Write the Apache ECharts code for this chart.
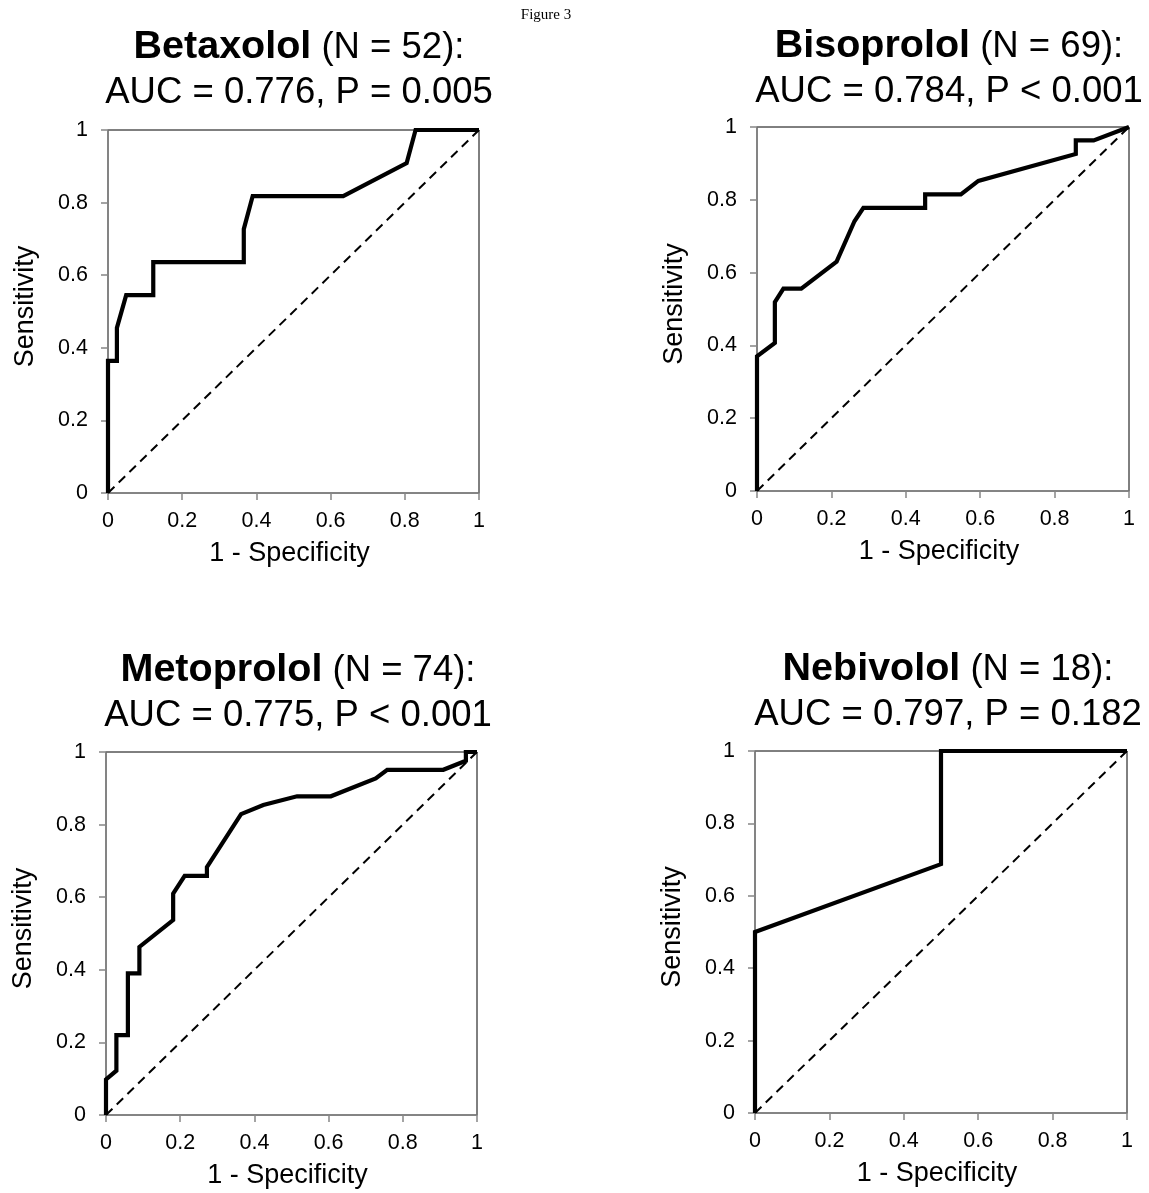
<!DOCTYPE html>
<html>
<head>
<meta charset="utf-8">
<script src="https://cdn.jsdelivr.net/npm/echarts@6/dist/echarts.min.js"></script>
<style>
html,body{margin:0;padding:0;background:#fff;}
#chart{width:1149px;height:1193px;}
</style>
</head>
<body>
<div id="chart"></div>
<script>
// ---- data ----
const figureLabel = 'Figure 3';
const drugNames = ['Betaxolol', 'Bisoprolol', 'Metoprolol', 'Nebivolol'];
const sampleSizes = [52, 69, 74, 18];
const aucValues = ['0.776', '0.784', '0.775', '0.797'];
const pValues = ['P = 0.005', 'P < 0.001', 'P < 0.001', 'P = 0.182'];
const axisTickValues = [0, 0.2, 0.4, 0.6, 0.8, 1];
const xAxisTitle = '1 - Specificity';
const yAxisTitle = 'Sensitivity';

const betaxololFpr = [0, 0, 0.024, 0.024, 0.049, 0.122, 0.122, 0.366, 0.366, 0.390, 0.634, 0.805, 0.829, 1];
const betaxololTpr = [0, 0.364, 0.364, 0.455, 0.545, 0.545, 0.636, 0.636, 0.727, 0.818, 0.818, 0.909, 1, 1];

const bisoprololFpr = [0, 0, 0.048, 0.048, 0.071, 0.119, 0.214, 0.262, 0.286, 0.452, 0.452, 0.548, 0.595, 0.857, 0.857, 0.905, 1];
const bisoprololTpr = [0, 0.370, 0.407, 0.519, 0.556, 0.556, 0.630, 0.741, 0.778, 0.778, 0.815, 0.815, 0.852, 0.926, 0.963, 0.963, 1];

const metoprololFpr = [0, 0, 0.028, 0.028, 0.059, 0.059, 0.090, 0.090, 0.181, 0.181, 0.212, 0.272, 0.272, 0.364, 0.424, 0.515, 0.606, 0.727, 0.758, 0.909, 0.970, 0.970, 1];
const metoprololTpr = [0, 0.098, 0.122, 0.220, 0.220, 0.390, 0.390, 0.463, 0.537, 0.610, 0.659, 0.659, 0.683, 0.829, 0.854, 0.878, 0.878, 0.927, 0.951, 0.951, 0.976, 1, 1];

const nebivololFpr = [0, 0, 0.5, 0.5, 1];
const nebivololTpr = [0, 0.5, 0.6875, 1, 1];

const referenceX = [0, 1];
const referenceY = [0, 1];

// ---- layout / style ----
const FONT = "'Liberation Sans', Arial, sans-serif";
const fprList = [betaxololFpr, bisoprololFpr, metoprololFpr, nebivololFpr];
const tprList = [betaxololTpr, bisoprololTpr, metoprololTpr, nebivololTpr];
const grids = [
  {left: 108, top: 130, width: 371, height: 363},
  {left: 757, top: 127, width: 372, height: 364},
  {left: 106, top: 752, width: 371, height: 363},
  {left: 755, top: 751, width: 372, height: 362}
];
const titlePos = [
  {x: 299, y: 25},
  {x: 949, y: 24},
  {x: 298, y: 648},
  {x: 948, y: 647}
];

const zip = (a, b) => a.map((v, i) => [v, b[i]]);

const option = {
  animation: false,
  backgroundColor: '#fff',
  title: [{
    text: figureLabel,
    left: 546, top: 8, textAlign: 'center', padding: 0,
    textStyle: {fontFamily: "'Liberation Serif', 'Times New Roman', serif", fontSize: 15, fontWeight: 'normal', color: '#000'}
  }].concat(drugNames.map((d, i) => ({
    text: '{b|' + d + '}{r| (N = ' + sampleSizes[i] + '):}\n{r|AUC = ' + aucValues[i] + ', ' + pValues[i] + '}',
    left: titlePos[i].x, top: titlePos[i].y, textAlign: 'center', padding: 0,
    textStyle: {
      fontFamily: FONT, color: '#000',
      rich: {
        b: {fontFamily: FONT, fontWeight: 'bold', fontSize: 39.5, lineHeight: 45, color: '#000'},
        r: {fontFamily: FONT, fontWeight: 'normal', fontSize: 36.5, lineHeight: 45, color: '#000'}
      }
    }
  }))),
  grid: grids.map(g => Object.assign({show: true, borderColor: '#000', borderWidth: 1, backgroundColor: 'transparent'}, g)),
  xAxis: grids.map((g, i) => ({
    type: 'value', gridIndex: i, min: axisTickValues[0], max: axisTickValues[axisTickValues.length - 1], interval: 0.2,
    name: xAxisTitle, nameLocation: 'middle', nameGap: 47,
    nameTextStyle: {fontFamily: FONT, fontSize: 27, color: '#000', padding: [0, 8, 0, 0]},
    axisLine: {show: true, onZero: false, lineStyle: {color: '#868686', width: 1.5}},
    axisTick: {show: true, inside: false, length: 7, lineStyle: {color: '#868686', width: 1.5}},
    axisLabel: {fontFamily: FONT, fontSize: 21.5, color: '#000', margin: 17},
    splitLine: {show: false}
  })),
  yAxis: grids.map((g, i) => ({
    type: 'value', gridIndex: i, min: axisTickValues[0], max: axisTickValues[axisTickValues.length - 1], interval: 0.2,
    name: yAxisTitle, nameLocation: 'middle', nameGap: 69,
    nameTextStyle: {fontFamily: FONT, fontSize: 27, color: '#000', padding: [0, 0, 0, 10]},
    axisLine: {show: true, onZero: false, lineStyle: {color: '#868686', width: 1.5}},
    axisTick: {show: true, inside: false, length: 7, lineStyle: {color: '#868686', width: 1.5}},
    axisLabel: {fontFamily: FONT, fontSize: 21.5, color: '#000', margin: 20},
    splitLine: {show: false}
  })),
  series: []
};

grids.forEach((g, i) => {
  option.series.push({
    type: 'line', xAxisIndex: i, yAxisIndex: i,
    data: zip(referenceX, referenceY),
    symbol: 'none', clip: false, silent: true,
    lineStyle: {color: '#000', width: 2, type: [9, 6]}, z: 2
  });
  option.series.push({
    type: 'line', xAxisIndex: i, yAxisIndex: i,
    data: zip(fprList[i], tprList[i]),
    symbol: 'none', clip: false, silent: true,
    lineStyle: {color: '#000', width: 4.2, join: 'miter'}, z: 3
  });
});

const chart = echarts.init(document.getElementById('chart'), null, {renderer: 'canvas'});
chart.setOption(option);
</script>
</body>
</html>
